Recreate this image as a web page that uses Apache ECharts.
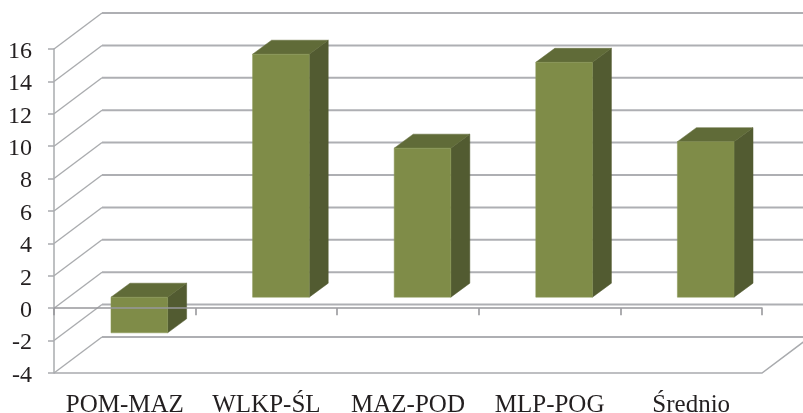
<!DOCTYPE html>
<html><head><meta charset="utf-8">
<style>html,body{margin:0;padding:0;background:#fff}#c{width:803px;height:413px}</style>
<script src="https://cdn.jsdelivr.net/npm/echarts@6/dist/echarts.min.js"></script>
</head><body><div id="c"></div>
<script>
const categories = ['POM-MAZ','WLKP-ŚL','MAZ-POD','MLP-POG','Średnio'];
const values = [-2.2, 15, 9.2, 14.5, 9.6];
const yTicks = [-4,-2,0,2,4,6,8,10,12,14,16];

const WALL_DX = 48, WALL_DY = -36;
const BAR_OFF_X = 14.5, BAR_OFF_Y = -11, BAR_DX = 19, BAR_DY = -14;
const GRID = '#aeafb3';

function renderWall(params, api){
  const cs = params.coordSys;
  const v = api.value(1);
  const y = api.coord([0, v])[1];
  const x0 = cs.x, x1 = cs.x + cs.width;
  const kids = [
    {type:'polyline', shape:{points:[[x0,y],[x0+WALL_DX,y+WALL_DY]]}, style:{stroke:'#a9abae',lineWidth:1.3,fill:null}},
    {type:'polyline', shape:{points:[[x0+WALL_DX,y+WALL_DY],[x1+WALL_DX,y+WALL_DY]]}, style:{stroke:GRID,lineWidth:2,fill:null}}
  ];
  if (v === yTicks[0]) {
    kids.push({type:'polyline', shape:{points:[[x0,y],[x1,y],[x1+WALL_DX,y+WALL_DY]]}, style:{stroke:'#a9abae',lineWidth:1.5,fill:null}});
  }
  return {type:'group', children:kids};
}
function renderBar(params, api){
  const i = api.value(0), v = api.value(1);
  const slot = api.size([1,0])[0];
  const w = slot * 0.4;
  const c = api.coord([i, v]), z = api.coord([i, 0]);
  const xl = c[0] - w/2 + BAR_OFF_X, xr = xl + w;
  const yv = c[1] + BAR_OFF_Y, y0 = z[1] + BAR_OFF_Y;
  const yt = Math.min(yv,y0), yb = Math.max(yv,y0);
  return {type:'group', children:[
    {type:'polygon', shape:{points:[[xr,yt],[xr+BAR_DX,yt+BAR_DY],[xr+BAR_DX,yb+BAR_DY],[xr,yb]]}, style:{fill:'#525b31',stroke:'#525b31',lineWidth:.5}},
    {type:'polygon', shape:{points:[[xl,yt],[xl+BAR_DX,yt+BAR_DY],[xr+BAR_DX,yt+BAR_DY],[xr,yt]]}, style:{fill:'#606b38',stroke:'#606b38',lineWidth:.5}},
    {type:'rect', shape:{x:xl,y:yt,width:w,height:yb-yt}, style:{fill:'#7f8c48',stroke:'#8b9856',lineWidth:.5}}
  ]};
}
const chart = echarts.init(document.getElementById('c'), null, {renderer:'canvas'});
chart.setOption({
  animation:false,
  backgroundColor:'#fff',
  grid:{left:54,right:41,top:49,bottom:40,containLabel:false,outerBoundsMode:'none'},
  xAxis:[
    {type:'category',data:categories,z:10,position:'bottom',
      axisLine:{onZero:true,lineStyle:{color:'#98989c',width:1.6}},
      axisTick:{show:true,length:7,lineStyle:{color:'#98989c',width:1.6}},
      axisLabel:{show:false},splitLine:{show:false}},
    {type:'category',data:categories,z:10,position:'bottom',
      axisLine:{show:false,onZero:false},axisTick:{show:false},
      axisLabel:{show:true,margin:13,padding:[7,0,0,0],fontFamily:'Liberation Serif',fontSize:25,color:'#231f20',interval:0,hideOverlap:false},
      splitLine:{show:false}}
  ],
  yAxis:{type:'value',min:-4,max:16,interval:2,z:10,
    axisLine:{show:true,lineStyle:{color:'#a9abae',width:1.5}},
    axisTick:{show:true,length:6,lineStyle:{color:'#a9abae',width:1.5}},
    axisLabel:{margin:22,formatter:'{a|{value}}',
      rich:{a:{padding:[5,0,0,0],fontFamily:'Liberation Serif',fontSize:24,color:'#231f20'}}},
    splitLine:{show:false}},
  series:[
    {type:'custom',z:1,silent:true,renderItem:renderWall,encode:{x:0,y:1},data:yTicks.map(v=>[0,v])},
    {type:'custom',z:3,silent:true,renderItem:renderBar,encode:{x:0,y:1},data:values.map((v,i)=>[i,v])}
  ]
});
</script></body></html>
